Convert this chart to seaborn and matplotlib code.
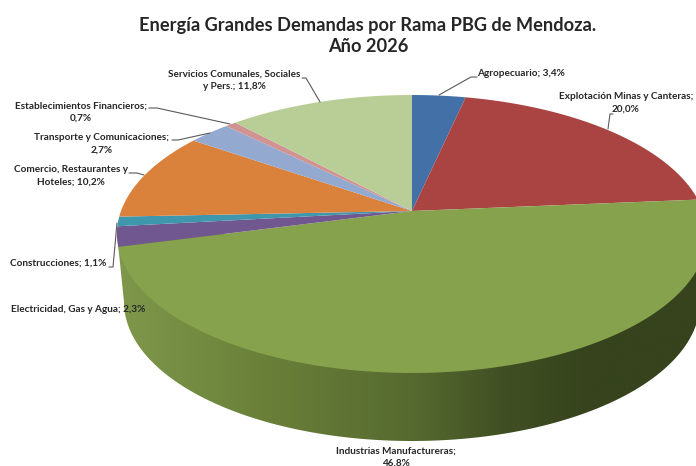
# Energia Grandes Demandas - tilted 3D style pie
import numpy as np
import matplotlib
matplotlib.use("Agg")
import matplotlib.pyplot as plt
from matplotlib.colors import LinearSegmentedColormap
from matplotlib.patches import Polygon
from matplotlib.transforms import Transform
from matplotlib.path import Path
import seaborn as sns

# Data
categories = ["Agropecuario", "Explotación Minas y Canteras", "Industrias Manufactureras",
              "Electricidad, Gas y Agua", "Construcciones", "Comercio, Restaurantes y Hoteles",
              "Transporte y Comunicaciones", "Establecimientos Financieros",
              "Servicios Comunales, Sociales y Pers."]
shares = [3.4, 20.0, 46.8, 2.3, 1.1, 10.2, 2.7, 0.7, 11.8]
slice_colors = ["#4370a6", "#a94442", "#86a24c", "#71578f", "#3f97ae",
                "#da823c", "#93a9d0", "#d19391", "#b9cd96"]
title_text = "Energía Grandes Demandas por Rama PBG de Mendoza.\nAño 2026"
label_text = ["Agropecuario; 3,4%", "Explotación Minas y Canteras;\n20,0%",
              "Industrias Manufactureras;\n46,8%", "Electricidad, Gas y Agua; 2,3%",
              "Construcciones; 1,1%", "Comercio, Restaurantes y\nHoteles; 10,2%",
              "Transporte y Comunicaciones;\n2,7%", "Establecimientos Financieros;\n0,7%",
              "Servicios Comunales, Sociales\ny Pers.; 11,8%"]
label_pos = [(521, 74), (626, 102.5), (396, 457), (78, 309), (58, 263),
             (71, 176), (102, 144), (81, 112), (234, 80)]
leaders = [[(477, 77), (471, 77), (439, 95)],
           [(613, 114), (610, 114), (608, 129)],
           [(109, 267), (113, 267), (117, 223)],
           [(129, 173), (137, 173), (144, 175)],
           [(172, 140), (178, 140), (210, 133)],
           [(149, 108), (157, 108), (230, 124)],
           [(302, 78), (306, 78), (320, 102)]]


class Tilt(Transform):
    # unit pie circle -> pixel coords, with a bit of perspective
    input_dims = 2
    output_dims = 2

    def __init__(self, cx=412, cy=211, d=291, k=135.2, c=0.1655):
        super().__init__()
        self.cx, self.cy, self.d, self.k, self.c = cx, cy, d, k, c

    def transform_non_affine(self, values):
        values = np.asarray(values)
        w = 1 + self.c * values[:, 1]
        return np.column_stack([self.cx + self.d * values[:, 0] / w,
                                self.cy - self.k * values[:, 1] / w])

    def transform_path_non_affine(self, path):
        # flatten the wedge curves first, control points dont survive perspective
        pts = []
        for seg, code in path.iter_bezier():
            pts.append(seg(np.linspace(0, 1, 24)))
        return Path(self.transform_non_affine(np.vstack(pts)))


sns.set_theme(style="white")
plt.rcParams["font.family"] = ["Lato", "DejaVu Sans"]

fig = plt.figure(figsize=(6.96, 4.66), dpi=100)
ax = fig.add_axes([0, 0, 1, 1])

wedges, _ = ax.pie(shares, startangle=90, counterclock=False,
                   colors=sns.color_palette(slice_colors), wedgeprops={"linewidth": 0})
ax.set_aspect("auto")
ax.set_xlim(0, 696)
ax.set_ylim(466, 0)
ax.axis("off")

tilt = Tilt()
for w in wedges:
    w.set_transform(tilt + ax.transData)
    w.set_zorder(3)

# side wall, shaded left to right
t = np.radians(np.linspace(180, 0, 120))
wall_pts = np.column_stack([412 + 288 * np.cos(t), 302 + 139 * np.sin(t)])
wall_pts = np.vstack([wall_pts, [(707, 234), (412, 234), (117, 234)]])
wall = Polygon(wall_pts, closed=True, transform=ax.transData, facecolor="none", edgecolor="none")
ax.add_patch(wall)
wall_cmap = LinearSegmentedColormap.from_list(
    "wall", [(0, "#7f984b"), (0.25, "#6a8039"), (0.5, "#566a30"), (0.66, "#404f23"),
             (0.8, "#36431d"), (1, "#36431d")])
img = ax.imshow(np.linspace(0, 1, 256)[None, :], cmap=wall_cmap, aspect="auto",
                extent=(117, 707, 441, 234), zorder=2)
img.set_clip_path(wall)
ax.set_xlim(0, 696)
ax.set_ylim(466, 0)

# labels + leader lines
for name, txt, (x, y) in zip(categories, label_text, label_pos):
    ax.text(x, y, txt, ha="center", va="center", fontsize=7.2, fontweight="bold",
            color="#262626", linespacing=1.48, zorder=5, clip_on=False)
for pts in leaders:
    xs, ys = zip(*pts)
    ax.plot(xs, ys, color="#5a5a5a", lw=0.8, zorder=4)

ax.text(368, 36, title_text, ha="center", va="center", fontsize=13.15, fontweight="bold",
        color="#262626", linespacing=1.35, zorder=5)

fig.savefig("out.png", dpi=100)
